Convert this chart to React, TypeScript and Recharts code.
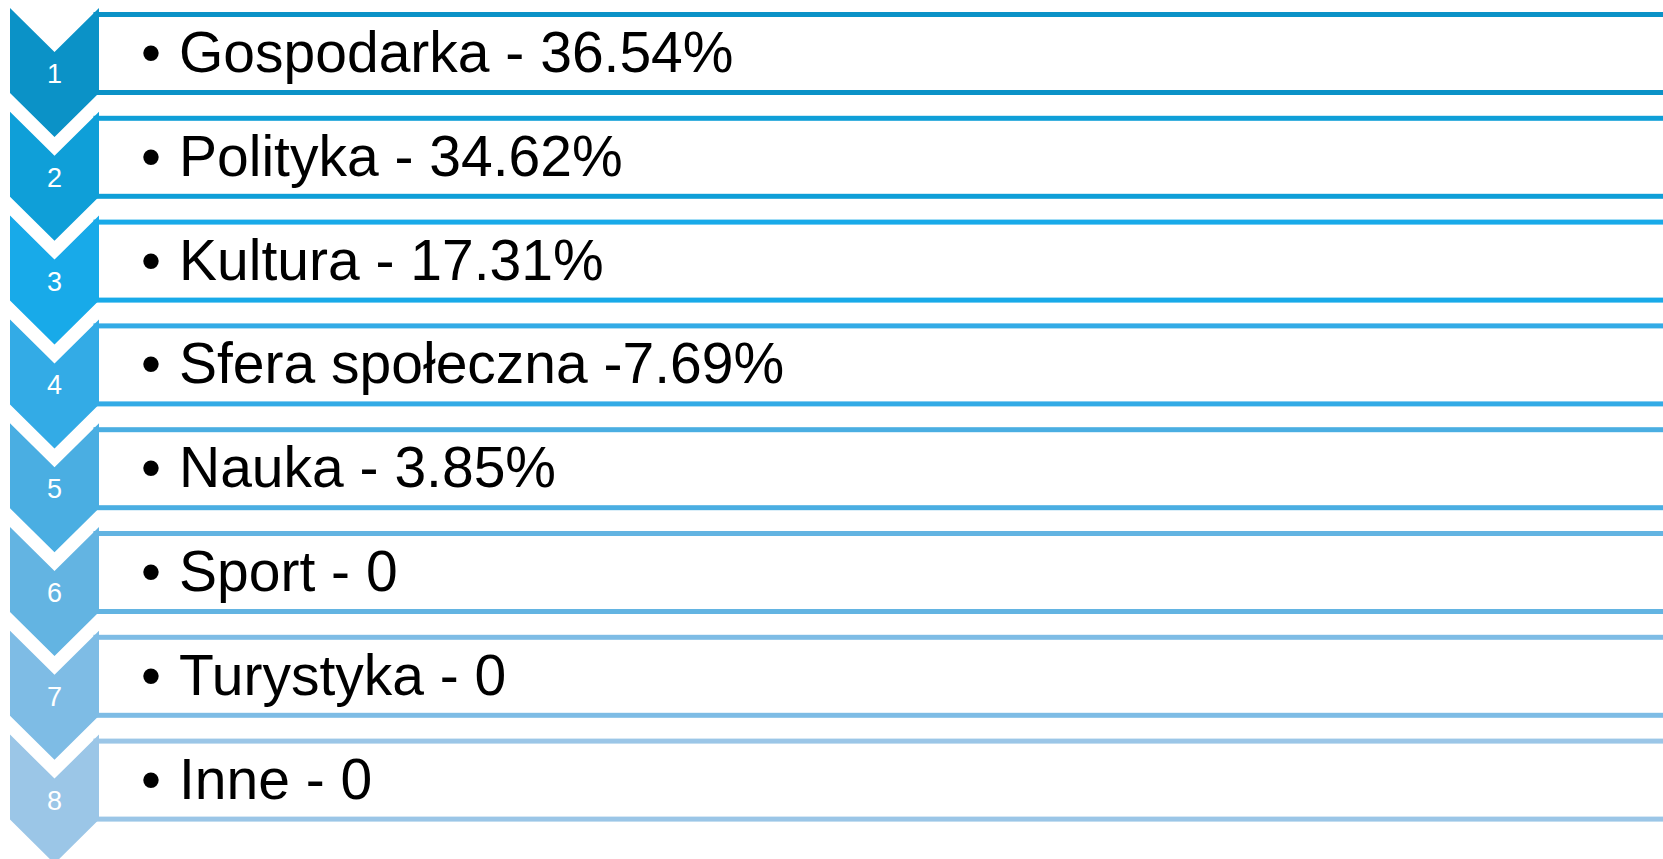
import React from "react";
import { Bar, BarChart, XAxis, YAxis } from "recharts";

const ranks = [1, 2, 3, 4, 5, 6, 7, 8];
const topics = [
  "Gospodarka",
  "Polityka",
  "Kultura",
  "Sfera społeczna",
  "Nauka",
  "Sport",
  "Turystyka",
  "Inne",
];
const shareLabels = ["36.54%", "34.62%", "17.31%", "7.69%", "3.85%", "0", "0", "0"];
const shares = [36.54, 34.62, 17.31, 7.69, 3.85, 0, 0, 0];
// separator between name and value differs in one row of the original
const separators = [" - ", " - ", " - ", " -", " - ", " - ", " - ", " - "];

const colors = [
  "#0b92c7",
  "#0f9fd8",
  "#18aae9",
  "#33abe6",
  "#4aaee2",
  "#63b4e2",
  "#7ebce5",
  "#9bc6e7",
];

const data = ranks.map((rank, i) => ({
  rank,
  topic: topics[i],
  share: shares[i],
  label: `${topics[i]}${separators[i]}${shareLabels[i]}`,
}));

const font = "'Liberation Sans', Arial, sans-serif";

function RowShape(props: any) {
  const { x, y, width, index, payload } = props;
  const color = colors[index];
  const cx = x + 54.5;
  const half = 44.5;
  const chevron = [
    [cx - half, y],
    [cx, y + 44],
    [cx + half, y],
    [cx + half, y + 85],
    [cx, y + 129],
    [cx - half, y + 85],
  ]
    .map((p) => p.join(","))
    .join(" ");

  return (
    <g>
      <rect
        x={cx + half - 3}
        y={y + 6.5}
        width={width}
        height={78}
        fill="#fff"
        stroke={color}
        strokeWidth={5}
      />
      <polygon points={chevron} fill={color} />
      <text
        x={cx}
        y={y + 75}
        textAnchor="middle"
        fill="#fff"
        fontFamily={font}
        fontSize={27}
      >
        {payload.rank}
      </text>
      <text x={x + 141} y={y + 64} fill="#000" fontFamily={font} fontSize={57}>
        •
      </text>
      <text x={x + 179} y={y + 64} fill="#000" fontFamily={font} fontSize={57}>
        {payload.label}
      </text>
    </g>
  );
}

export default function App() {
  return (
    <div style={{ position: "fixed", left: 0, top: 0, background: "#fff" }}>
      <BarChart
        width={1663}
        height={859}
        data={data}
        layout="vertical"
        barCategoryGap={0}
        margin={{ top: 8, right: 0, bottom: 20.6, left: 0 }}
      >
        <XAxis type="number" hide domain={[0, 100]} />
        <YAxis type="category" dataKey="topic" hide />
        <Bar
          dataKey="share"
          isAnimationActive={false}
          fill="none"
          shape={() => <g />}
          background={(p: any) => <RowShape key={p.index} {...p} />}
        />
      </BarChart>
    </div>
  );
}
